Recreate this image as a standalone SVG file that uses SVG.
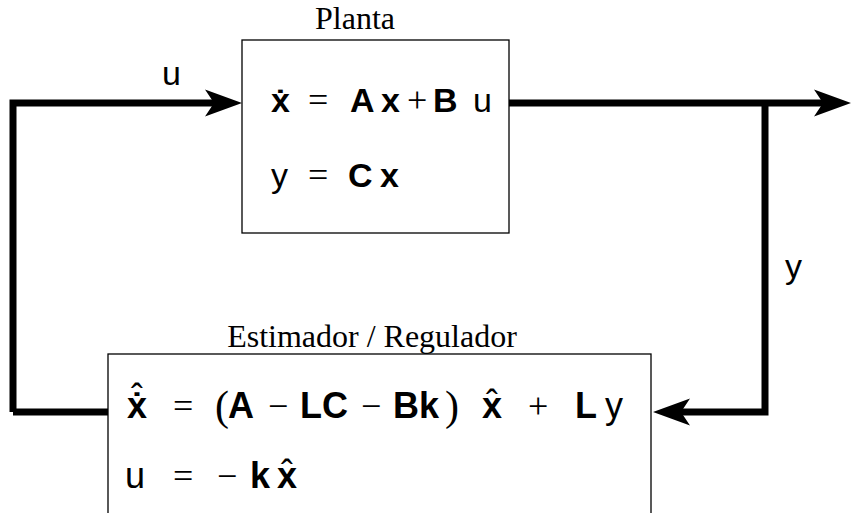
<svg xmlns="http://www.w3.org/2000/svg" width="851" height="513" viewBox="0 0 851 513">
<defs>
<marker id="ah" markerUnits="userSpaceOnUse" markerWidth="40" markerHeight="30" refX="9" refY="13.5" orient="auto" overflow="visible">
<path d="M0,0 L37,13.5 L0,27 L9,13.5 Z" fill="#000"/>
</marker>
<style>
.ln{fill:none;stroke:#000;stroke-width:7;stroke-linejoin:miter;stroke-linecap:butt}
.box{fill:#fff;stroke:#000;stroke-width:1.3}
.lbl{font-family:"Liberation Serif","Times New Roman",serif;font-size:32px;fill:#000}
.eq{font-family:"Liberation Sans",Arial,sans-serif;font-size:34px;fill:#000}
.e2{font-family:"Liberation Sans",Arial,sans-serif;font-size:36px;fill:#000}
.op{font-family:"Liberation Serif","Times New Roman",serif;font-size:36px;fill:#000}
.b{font-weight:bold}
.acc{text-anchor:middle}
.par{font-family:"Liberation Serif","Times New Roman",serif;font-size:42px;fill:#000}
</style>
</defs>
<rect width="851" height="513" fill="#fff"/>
<g id="connectors">
<path class="ln" d="M13,412 L13,103 L214,103" marker-end="url(#ah)"/>
<path class="ln" d="M13,412 L108,412"/>
<path class="ln" d="M509,103 L823,103" marker-end="url(#ah)"/>
<path class="ln" d="M765,103 L765,412 L681,412" marker-end="url(#ah)"/>
</g>
<g id="labels">
<text class="eq" x="162" y="85">u</text>
<text class="eq" x="785" y="278">y</text>
</g>
<g id="planta">
<text class="lbl" x="355" y="29" text-anchor="middle">Planta</text>
<rect class="box" x="242" y="40" width="267" height="193"/>
<text class="eq b" x="271" y="112">x</text>
<text class="eq b acc" x="280.5" y="114">˙</text>
<text class="op" x="308" y="112">=</text>
<text class="eq b" x="350" y="112">A</text>
<text class="eq b" x="381" y="112">x</text>
<text class="op" x="407" y="112">+</text>
<text class="eq b" x="433" y="112">B</text>
<text class="eq" x="473" y="112">u</text>
<text class="eq" x="271" y="187">y</text>
<text class="op" x="308" y="187">=</text>
<text class="eq b" x="348" y="187">C</text>
<text class="eq b" x="380" y="187">x</text>
</g>
<g id="estimador">
<text class="lbl" x="372" y="347" text-anchor="middle">Estimador / Regulador</text>
<rect class="box" x="108" y="354" width="543" height="170"/>
<text class="e2 b" x="127" y="418">x</text>
<text class="e2 b acc" x="137" y="419">˙</text>
<text class="e2 acc" x="137" y="410">ˆ</text>
<text class="op" x="173" y="418">=</text>
<text class="par" x="215" y="420">(</text>
<text class="e2 b" x="228" y="418">A</text>
<text class="op" x="268" y="418">−</text>
<text class="e2 b" x="300" y="418">LC</text>
<text class="op" x="361" y="418">−</text>
<text class="e2 b" x="393" y="418">Bk</text>
<text class="par" x="445" y="420">)</text>
<text class="e2 b" x="482" y="418">x</text>
<text class="e2 acc" x="492" y="416">ˆ</text>
<text class="op" x="528" y="418">+</text>
<text class="e2 b" x="575" y="418">L</text>
<text class="e2" x="605" y="418">y</text>
<text class="e2" x="125" y="488">u</text>
<text class="op" x="173" y="488">=</text>
<text class="op" x="217" y="488">−</text>
<text class="e2 b" x="250" y="488">k</text>
<text class="e2 b" x="277" y="488">x</text>
<text class="e2 acc" x="287" y="486">ˆ</text>
</g>
</svg>
